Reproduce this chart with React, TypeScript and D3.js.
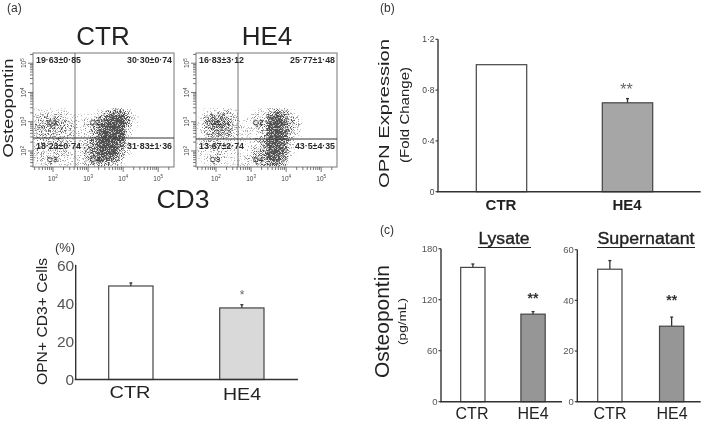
import React from 'react';
import * as d3 from 'd3';

const FONT = '"Liberation Sans", Arial, sans-serif';

// panel (a) flow cytometry: density read by eye, 0-9 per bin, rows top to bottom
const logXStart = 1.45;
const logYTop = 3.45;
const binStep = 0.2;
const ctrDensity = [
  [1, 1, 1, 1, 1, 0, 0, 0, 0, 1, 3, 5, 5, 2, 0],
  [2, 3, 3, 3, 2, 1, 1, 1, 2, 4, 7, 9, 9, 4, 1],
  [3, 3, 4, 4, 3, 2, 1, 2, 3, 6, 9, 9, 9, 4, 1],
  [3, 3, 3, 3, 3, 2, 1, 2, 3, 7, 9, 9, 9, 2, 0],
  [3, 3, 3, 3, 2, 2, 1, 1, 3, 7, 9, 9, 9, 2, 0],
  [2, 3, 3, 3, 2, 2, 1, 2, 5, 9, 9, 9, 8, 1, 0],
  [2, 2, 2, 3, 2, 1, 1, 3, 6, 9, 9, 9, 6, 1, 0],
  [2, 2, 2, 2, 2, 1, 1, 3, 6, 9, 9, 9, 4, 1, 0],
  [2, 2, 2, 2, 1, 1, 1, 3, 5, 8, 8, 6, 3, 0, 0],
  [1, 1, 1, 1, 1, 1, 1, 2, 3, 4, 4, 3, 1, 0, 0],
];
const he4Density = [
  [0, 1, 2, 2, 2, 1, 0, 0, 1, 1, 3, 5, 4, 1, 0],
  [1, 3, 5, 5, 4, 2, 0, 1, 2, 2, 6, 9, 6, 3, 1],
  [1, 4, 6, 6, 5, 2, 1, 1, 2, 3, 8, 9, 7, 4, 2],
  [1, 3, 5, 5, 4, 2, 1, 1, 1, 3, 8, 9, 7, 3, 1],
  [1, 3, 4, 4, 3, 2, 1, 1, 1, 3, 8, 9, 7, 2, 1],
  [1, 2, 2, 2, 2, 1, 1, 1, 2, 4, 9, 9, 6, 2, 0],
  [1, 2, 2, 2, 2, 1, 0, 1, 2, 4, 9, 9, 6, 1, 0],
  [1, 1, 2, 2, 1, 1, 1, 1, 3, 4, 9, 9, 6, 1, 0],
  [1, 1, 2, 2, 1, 1, 1, 2, 3, 4, 8, 8, 5, 1, 0],
  [0, 1, 1, 1, 1, 1, 1, 1, 2, 3, 6, 6, 3, 0, 0],
];
const ctrQuadrants = ['19·63±0·85', '30·30±0·74', '18·23±0·74', '31·83±1·36'];
const he4Quadrants = ['16·83±3·12', '25·77±1·48', '13·67±2·74', '43·5±4·35'];
const gateNames = ['Q1', 'Q2', 'Q3', 'Q4'];
const flowDecades = [2, 3, 4, 5];

// bar panels
const groups = ['CTR', 'HE4'];
const percentValues = [49, 37.5];
const percentErrors = [1.6, 1.7];
const percentTicks = [0, 20, 40, 60];
const foldValues = [1, 0.7];
const foldErrors = [0, 0.033];
const foldTicks = [0, 0.4, 0.8, 1.2];
const lysateValues = [158, 103];
const lysateErrors = [4, 3];
const lysateTicks = [0, 60, 120, 180];
const supernatantValues = [52.3, 29.8];
const supernatantErrors = [3.4, 3.6];
const supernatantTicks = [0, 20, 40, 60];

const midDot = (v: number) => d3.format('.1f')(v).replace('.', '·');
const tickFoldFmt = (v: number) => (v === 0 ? '0' : midDot(v));

function FlowPlot({ x0, title, density, labels, gateX, gateY, titleX }: any) {
  const left = x0;
  const right = x0 + 141;
  const top = 53;
  const bottom = 167;
  const x = d3.scaleLog().domain([10 ** 1.43, 10 ** 5.45]).range([left, right]);
  const y = d3.scaleLog().domain([10 ** 1.45, 10 ** 5.35]).range([bottom, top]);
  const op = d3.scalePow().exponent(0.65).domain([0, 9]).range([0, 1]);
  const xTicks = x.ticks();
  const yTicks = y.ticks();
  const isMajor = (t: number) => Number.isInteger(Math.log10(t));
  const vLine = x0 + gateX;
  const gates = [
    [x0 + 19, 122],
    [x0 + 62, 122],
    [x0 + 19, 159],
    [x0 + 62, 159],
  ];
  return (
    <g fontFamily={FONT}>
      <text x={titleX} y={45} fontSize={26} textAnchor="middle" fill="#222">{title}</text>
      <g filter="url(#stipple)">
        {density.map((row: number[], r: number) =>
          row.map((d, c) => {
            const cx0 = x(10 ** (logXStart + c * binStep));
            const cx1 = x(10 ** (logXStart + (c + 1) * binStep));
            const cy0 = y(10 ** (logYTop - r * binStep));
            const cy1 = y(10 ** (logYTop - (r + 1) * binStep));
            return <rect key={r + '-' + c} x={cx0} y={cy0} width={cx1 - cx0} height={cy1 - cy0} fill="#000" opacity={op(d)} />;
          })
        )}
      </g>
      <rect x={left} y={top} width={right - left} height={bottom - top} fill="none" stroke="#777" strokeWidth={1} />
      <line x1={vLine} x2={vLine} y1={top} y2={bottom} stroke="#666" strokeWidth={0.9} />
      <line x1={left} x2={right} y1={gateY} y2={gateY} stroke="#333" strokeWidth={1} />
      {xTicks.map((t, i) => (
        <line key={i} x1={x(t)} x2={x(t)} y1={bottom} y2={bottom + (isMajor(t) ? 5 : 3)} stroke="#555" strokeWidth={0.8} />
      ))}
      {yTicks.map((t, i) => (
        <line key={i} y1={y(t)} y2={y(t)} x1={left} x2={left - (isMajor(t) ? 5 : 3)} stroke="#555" strokeWidth={0.8} />
      ))}
      {flowDecades.map((d) => (
        <text key={d} x={x(10 ** d)} y={180.5} fontSize={6.5} textAnchor="middle" fill="#444">
          10<tspan fontSize={4.5} dy={-2.5}>{d}</tspan>
        </text>
      ))}
      {flowDecades.map((d) => (
        <text key={d} transform={`translate(${left - 7},${y(10 ** d)}) rotate(-90)`} fontSize={6.5} textAnchor="middle" fill="#444">
          10<tspan fontSize={4.5} dy={-2.5}>{d}</tspan>
        </text>
      ))}
      {gateNames.map((g, i) => (
        <text key={g} x={gates[i][0]} y={gates[i][1] + 3} fontSize={8} textAnchor="middle" fill="none" stroke="#333" strokeWidth={0.35}>{g}</text>
      ))}
      <g fontSize={8.8} fontWeight="bold" fill="#2a2a2a">
        <text x={left + 3} y={62.5}>{labels[0]}</text>
        <text x={right - 2} y={62.5} textAnchor="end">{labels[1]}</text>
        <text x={left + 3} y={149}>{labels[2]}</text>
        <text x={right - 2} y={149} textAnchor="end">{labels[3]}</text>
      </g>
    </g>
  );
}

function BarPanel(props: any) {
  const { axisX, axisEnd, yTop, yBase, domainMax, ticks, values, errors, barX, barW, fills, tickFont, tickFmt, tickColor, tickLen } = props;
  const y = d3.scaleLinear().domain([0, domainMax]).range([yBase, yTop]);
  return (
    <g fontFamily={FONT}>
      {values.map((v: number, i: number) => (
        <g key={i}>
          {errors[i] > 0 && (
            <g stroke="#333" strokeWidth={1.3}>
              <line x1={barX[i] + barW / 2} x2={barX[i] + barW / 2} y1={y(v)} y2={y(v + errors[i])} />
              <line x1={barX[i] + barW / 2 - 1.5} x2={barX[i] + barW / 2 + 1.5} y1={y(v + errors[i])} y2={y(v + errors[i])} />
            </g>
          )}
          <rect x={barX[i]} y={y(v)} width={barW} height={yBase - y(v)} fill={fills[i]} stroke="#444" strokeWidth={1.2} />
        </g>
      ))}
      <line x1={axisX} x2={axisX} y1={yTop} y2={yBase} stroke="#333" strokeWidth={1.4} />
      <line x1={axisX - 1} x2={axisEnd} y1={yBase} y2={yBase} stroke="#333" strokeWidth={1.5} />
      {ticks.map((t: number) => (
        <g key={t}>
          <line x1={axisX - tickLen} x2={axisX} y1={y(t)} y2={y(t)} stroke="#333" strokeWidth={1.1} />
          <text x={axisX - tickLen - 1} y={y(t) + tickFont * 0.36} fontSize={tickFont} textAnchor="end" fill={tickColor}>{tickFmt(t)}</text>
        </g>
      ))}
    </g>
  );
}

// rotated label squeezed to the length measured on the reference
function Vertical({ x, y, size, len, children, fill = '#222' }: any) {
  return (
    <text transform={`translate(${x},${y}) rotate(-90)`} fontFamily={FONT} fontSize={size} textAnchor="middle" fill={fill}
      textLength={len} lengthAdjust="spacingAndGlyphs">{children}</text>
  );
}

export default function App() {
  return (
    <svg width={709} height={422} style={{ position: 'absolute', left: 0, top: 0, display: 'block' }}>
      <defs>
        <filter id="stipple" x="0" y="0" width="100%" height="100%" colorInterpolationFilters="sRGB">
          <feGaussianBlur in="SourceGraphic" stdDeviation="1.8" result="soft" />
          <feTurbulence type="fractalNoise" baseFrequency="1.3" numOctaves="1" seed="7" result="noise" />
          <feColorMatrix in="noise" type="matrix" values="0 0 0 0 0  0 0 0 0 0  0 0 0 0 0  3 0 0 0 -1" result="grain" />
          <feComposite in="soft" in2="grain" operator="arithmetic" k1="0" k2="1.2" k3="1" k4="-1" result="sum" />
          <feComponentTransfer in="sum" result="dots">
            <feFuncA type="linear" slope="1.7" intercept="0" />
          </feComponentTransfer>
          <feFlood floodColor="#4f4f4f" result="ink" />
          <feComposite in="ink" in2="dots" operator="in" />
          <feGaussianBlur stdDeviation="0.3" />
        </filter>
        <filter id="soften" x="0" y="0" width="100%" height="100%">
          <feGaussianBlur stdDeviation="0.35" />
        </filter>
      </defs>
      <rect width={709} height={422} fill="#fff" />
      <g filter="url(#soften)">
        <g fontFamily={FONT} fontSize={12} fill="#333">
          <text x={7} y={12}>(a)</text>
          <text x={380} y={12}>(b)</text>
          <text x={380} y={234}>(c)</text>
        </g>

        <FlowPlot x0={33} title="CTR" titleX={103} density={ctrDensity} labels={ctrQuadrants} gateX={42} gateY={138} />
        <FlowPlot x0={196} title="HE4" titleX={267} density={he4Density} labels={he4Quadrants} gateX={42} gateY={139} />
        <Vertical x={12.5} y={108} size={14.5} len={99}>Osteopontin</Vertical>
        <text x={183} y={208} fontFamily={FONT} fontSize={26.5} textAnchor="middle" fill="#222">CD3</text>

        <BarPanel axisX={75.7} axisEnd={298} yTop={265} yBase={379.5} domainMax={60} ticks={percentTicks} values={percentValues} errors={percentErrors}
          barX={[108.7, 219.7]} barW={44.3} fills={['#fff', '#d9d9d9']} tickFont={15.5} tickFmt={String} tickColor="#555" tickLen={0.5} />
        <Vertical x={47} y={321.5} size={14.5} len={127}>OPN+ CD3+ Cells</Vertical>
        <text x={65} y={252} fontFamily={FONT} fontSize={13} textAnchor="middle" fill="#333">(%)</text>
        <text x={130} y={398} fontFamily={FONT} fontSize={16.5} textAnchor="middle" fill="#222" textLength={41} lengthAdjust="spacingAndGlyphs">{groups[0]}</text>
        <text x={242} y={400} fontFamily={FONT} fontSize={16.5} textAnchor="middle" fill="#222" textLength={38} lengthAdjust="spacingAndGlyphs">{groups[1]}</text>
        <text x={242} y={299} fontFamily={FONT} fontSize={12} textAnchor="middle" fill="#666">*</text>

        <BarPanel axisX={438} axisEnd={700.7} yTop={39.3} yBase={191.7} domainMax={1.2} ticks={foldTicks} values={foldValues} errors={foldErrors}
          barX={[476.3, 602.3]} barW={50.4} fills={['#fff', '#a6a6a6']} tickFont={8.5} tickFmt={tickFoldFmt} tickColor="#444" tickLen={2.5} />
        <Vertical x={389} y={113.5} size={15.5} len={149}>OPN Expression</Vertical>
        <Vertical x={409} y={115} size={12} len={96}>(Fold Change)</Vertical>
        <text x={501} y={210} fontFamily={FONT} fontSize={15} fontWeight="bold" textAnchor="middle" fill="#222">{groups[0]}</text>
        <text x={627} y={210} fontFamily={FONT} fontSize={15} fontWeight="bold" textAnchor="middle" fill="#222">{groups[1]}</text>
        <text x={626.5} y={95} fontFamily={FONT} fontSize={16} textAnchor="middle" fill="#666">**</text>

        <BarPanel axisX={441} axisEnd={562} yTop={248.7} yBase={401.7} domainMax={180} ticks={lysateTicks} values={lysateValues} errors={lysateErrors}
          barX={[460.7, 520.9]} barW={24.3} fills={['#fff', '#969696']} tickFont={9.5} tickFmt={String} tickColor="#555" tickLen={2.5} />
        <BarPanel axisX={577.3} axisEnd={700.7} yTop={249.7} yBase={401.7} domainMax={60} ticks={supernatantTicks} values={supernatantValues} errors={supernatantErrors}
          barX={[597.7, 659.5]} barW={24.3} fills={['#fff', '#969696']} tickFont={9.5} tickFmt={String} tickColor="#555" tickLen={2.5} />
        <Vertical x={389} y={321.5} size={20} len={113}>Osteopontin</Vertical>
        <Vertical x={406} y={321.5} size={10.5} len={47}>(pg/mL)</Vertical>
        <g fontFamily={FONT} fontSize={16} textAnchor="middle" fill="#222">
          <text x={472} y={419}>{groups[0]}</text>
          <text x={533} y={419}>{groups[1]}</text>
          <text x={610} y={419}>{groups[0]}</text>
          <text x={672} y={419}>{groups[1]}</text>
        </g>
        <g fontFamily={FONT} fontSize={14} fontWeight="bold" textAnchor="middle" fill="#333">
          <text x={533} y={303}>**</text>
          <text x={671.7} y={305}>**</text>
        </g>
        <g fontFamily={FONT} fontSize={16} textAnchor="middle" fill="#222" stroke="#222" strokeWidth={0.35}>
          <text x={504} y={244} textLength={51} lengthAdjust="spacingAndGlyphs">Lysate</text>
          <text x={646} y={244} textLength={97} lengthAdjust="spacingAndGlyphs">Supernatant</text>
        </g>
        <line x1={478} x2={531} y1={247.5} y2={247.5} stroke="#222" strokeWidth={1} />
        <line x1={597} x2={695} y1={247.5} y2={247.5} stroke="#222" strokeWidth={1} />
      </g>
    </svg>
  );
}
